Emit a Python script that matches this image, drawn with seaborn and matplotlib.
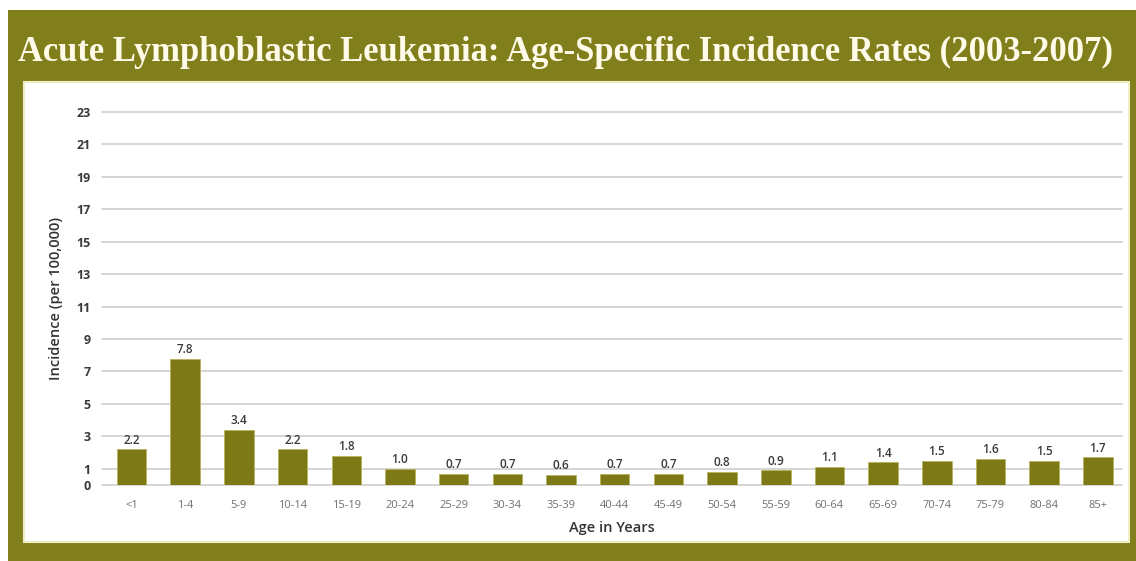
import matplotlib
matplotlib.use("Agg")
import matplotlib.pyplot as plt
from matplotlib.patches import Rectangle
import seaborn as sns
import pandas as pd

age_groups = ["<1", "1-4", "5-9", "10-14", "15-19", "20-24", "25-29", "30-34", "35-39",
              "40-44", "45-49", "50-54", "55-59", "60-64", "65-69", "70-74", "75-79",
              "80-84", "85+"]
incidence = [2.2, 7.8, 3.4, 2.2, 1.8, 1.0, 0.7, 0.7, 0.6,
             0.7, 0.7, 0.8, 0.9, 1.1, 1.4, 1.5, 1.6, 1.5, 1.7]
y_ticks = [0, 1, 3, 5, 7, 9, 11, 13, 15, 17, 19, 21, 23]
title_text = "Acute Lymphoblastic Leukemia: Age-Specific Incidence Rates (2003-2007)"
y_label = "Incidence (per 100,000)"
x_label = "Age in Years"

OLIVE = "#817f1c"
BAR = "#7c7916"
W, H = 1136, 561

sns.set_theme(style="white")
plt.rcParams["font.family"] = ["Open Sans", "DejaVu Sans"]

fig = plt.figure(figsize=(W / 100, H / 100), dpi=100)
fig.patch.set_facecolor("white")

def fx(px):
    return px / W

def fy(py):
    return 1 - py / H

# olive frame
fig.patches.append(Rectangle((fx(8), 0), fx(1136) - fx(8), fy(10), transform=fig.transFigure,
                             facecolor=OLIVE, edgecolor="none", zorder=0))
# white panel
fig.patches.append(Rectangle((fx(24), fy(542)), fx(1129) - fx(24), fy(82) - fy(542),
                             transform=fig.transFigure, facecolor="white",
                             edgecolor="#efedc4", linewidth=1.5, zorder=1))

ax = fig.add_axes([fx(102), fy(485), fx(1122) - fx(102), fy(112) - fy(485)])
ax.set_facecolor("none")
ax.set_zorder(5)

df = pd.DataFrame({"age": age_groups, "incidence": incidence})
sns.barplot(data=df, x="age", y="incidence", color=BAR, saturation=1, width=0.55,
            ax=ax, zorder=3, edgecolor="#b8b35a", linewidth=0.6)

ax.set_ylim(0, 23)
ax.set_xlim(-0.55, 18.45)
ax.set_yticks(y_ticks)
ax.set_yticklabels([str(t) for t in y_ticks])
ax.grid(axis="y", color="#d2d2d2", linewidth=1.3, zorder=0)
ax.grid(axis="x", visible=False)
ax.set_axisbelow(True)
for s in ax.spines.values():
    s.set_visible(False)
for gl in ax.get_ygridlines():
    gl.set_clip_on(False)

ax.tick_params(axis="y", length=0, pad=8, labelsize=9, labelcolor="#3a3a3a")
ax.tick_params(axis="x", length=0, pad=11, labelsize=8, labelcolor="#707070")
for lbl in ax.get_yticklabels():
    lbl.set_fontweight("bold")

for cont in ax.containers:
    ax.bar_label(cont, labels=[f"{v:.1f}" for v in incidence], padding=2,
                 fontsize=8.5, color="#3a3a3a", fontweight="semibold")

ax.set_xlabel(x_label, fontsize=10.5, color="#333333", fontweight="semibold", labelpad=7)
ax.set_ylabel(y_label, fontsize=10.5, color="#333333", fontweight="semibold", labelpad=10)

# title
t = fig.text(fx(566), fy(61), title_text, ha="center", va="baseline", color="#fffbe8",
             fontsize=20, fontweight="bold", family=["Liberation Serif", "DejaVu Serif"],
             zorder=6)
fig.canvas.draw()
bb = t.get_window_extent()
t.set_fontsize(20 * 1097 / bb.width)

fig.savefig("out.png", dpi=100, facecolor=fig.get_facecolor())
